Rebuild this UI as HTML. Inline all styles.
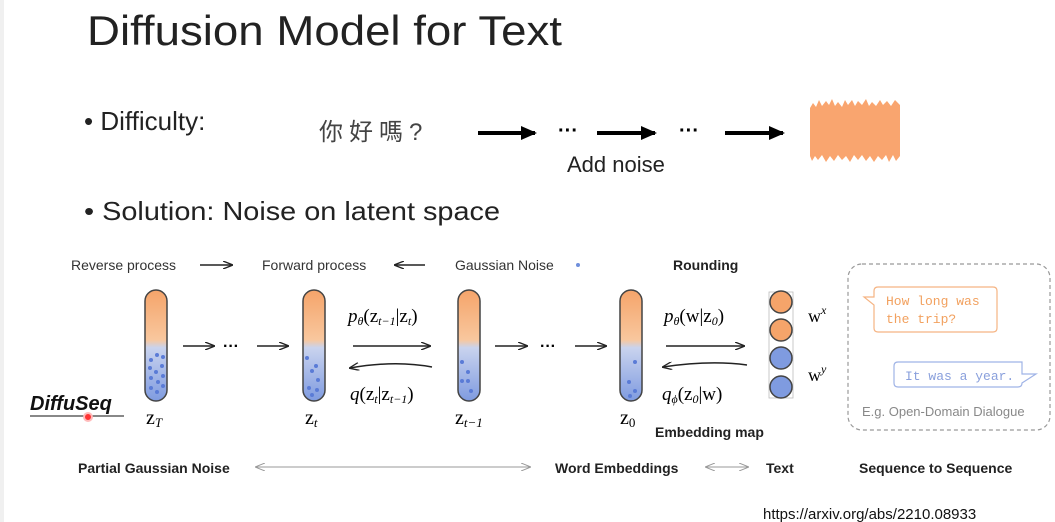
<!DOCTYPE html>
<html><head><meta charset="utf-8"><style>
html,body{margin:0;padding:0;background:#fff;}
svg{display:block;}
text{font-family:"Liberation Sans","Noto Sans CJK TC",sans-serif;}
.s{font-family:"Liberation Serif",serif;}
.m{font-family:"Liberation Mono",monospace;}
</style></head><body>
<svg width="1055" height="522" viewBox="0 0 1055 522" xmlns="http://www.w3.org/2000/svg">
<defs>
<linearGradient id="tube" x1="0" y1="0" x2="0" y2="1">
<stop offset="0" stop-color="#f5a46a"/><stop offset="0.45" stop-color="#f8c79e"/><stop offset="0.52" stop-color="#c9d3ee"/><stop offset="1" stop-color="#7f9be0"/>
</linearGradient>
<marker id="ah" markerWidth="10" markerHeight="8" refX="9" refY="4" orient="auto" markerUnits="userSpaceOnUse"><path d="M0,0 L10,4 L0,8" fill="none" stroke="#222" stroke-width="1.3"/></marker>
<marker id="ahs" markerWidth="10" markerHeight="8" refX="1" refY="4" orient="auto" markerUnits="userSpaceOnUse"><path d="M10,0 L0,4 L10,8" fill="none" stroke="#222" stroke-width="1.3"/></marker>
<marker id="ag" markerWidth="10" markerHeight="8" refX="9" refY="4" orient="auto" markerUnits="userSpaceOnUse"><path d="M0,0 L10,4 L0,8" fill="none" stroke="#999" stroke-width="1"/></marker>
<marker id="ags" markerWidth="10" markerHeight="8" refX="1" refY="4" orient="auto" markerUnits="userSpaceOnUse"><path d="M10,0 L0,4 L10,8" fill="none" stroke="#999" stroke-width="1"/></marker>
<marker id="big" markerWidth="16" markerHeight="14" refX="14" refY="7" orient="auto" markerUnits="userSpaceOnUse"><path d="M0,0 L16,7 L0,14 Z" fill="#000"/></marker>
</defs>
<rect x="0" y="0" width="4" height="522" fill="#f0f0f0"/>
<text x="87" y="45" font-size="42" fill="#222" textLength="475" lengthAdjust="spacingAndGlyphs">Diffusion Model for Text</text>
<text x="84" y="130" font-size="26" fill="#222">• Difficulty:</text>
<text x="84" y="220" font-size="26" fill="#222" textLength="416" lengthAdjust="spacingAndGlyphs">• Solution: Noise on latent space</text>
<text x="319" y="140" font-size="24" fill="#444" letter-spacing="6">你好嗎?</text>
<g stroke="#000" stroke-width="4" marker-end="url(#big)">
<line x1="478" y1="133" x2="535" y2="133"/><line x1="597" y1="133" x2="655" y2="133"/><line x1="725" y1="133" x2="783" y2="133"/>
</g>
<text x="558" y="137" font-size="20" font-weight="bold">···</text>
<text x="679" y="137" font-size="20" font-weight="bold">···</text>
<text x="567" y="172" font-size="22" fill="#222">Add noise</text>
<path d="M810,108 L813,103 L816,107 L819,100 L822,106 L826,101 L829,105 L832,99 L835,106 L838,102 L842,107 L845,100 L848,105 L852,100 L855,106 L858,101 L862,105 L866,99 L869,106 L872,102 L876,106 L880,100 L883,105 L887,101 L891,106 L895,100 L900,105 L900,156 L896,161 L893,155 L889,162 L886,155 L882,160 L878,156 L874,162 L870,156 L866,161 L862,155 L858,160 L854,155 L850,162 L846,156 L842,160 L838,155 L834,161 L830,156 L826,162 L822,155 L818,160 L815,156 L812,161 L810,156 Z" fill="#f9a56f"/>

<text x="71" y="270" font-size="14" fill="#333">Reverse process</text>
<line x1="200" y1="265" x2="232" y2="265" stroke="#222" stroke-width="1.5" marker-end="url(#ah)"/>
<text x="262" y="270" font-size="14" fill="#333">Forward process</text>
<line x1="395" y1="265" x2="425" y2="265" stroke="#222" stroke-width="1.5" marker-start="url(#ahs)"/>
<text x="455" y="270" font-size="14" fill="#333">Gaussian Noise</text>
<circle cx="578" cy="265" r="2" fill="#6f8fdc"/>
<text x="673" y="270" font-size="14" font-weight="bold" fill="#222">Rounding</text>

<g stroke="#444" stroke-width="1.5" fill="url(#tube)">
<rect x="145" y="290" width="22" height="111" rx="11"/>
<rect x="303" y="290" width="22" height="111" rx="11"/>
<rect x="458" y="290" width="22" height="111" rx="11"/>
<rect x="620" y="290" width="22" height="111" rx="11"/>
</g>
<g fill="#5a7bd6">
<circle cx="151" cy="360" r="2"/><circle cx="157" cy="355" r="2"/><circle cx="163" cy="357" r="2"/><circle cx="150" cy="368" r="2"/><circle cx="156" cy="372" r="2"/><circle cx="162" cy="366" r="2"/><circle cx="151" cy="378" r="2"/><circle cx="158" cy="382" r="2"/><circle cx="163" cy="376" r="2"/><circle cx="151" cy="388" r="2"/><circle cx="157" cy="392" r="2"/><circle cx="163" cy="386" r="2"/>
<circle cx="307" cy="358" r="2"/><circle cx="316" cy="366" r="2"/><circle cx="312" cy="371" r="2"/><circle cx="318" cy="380" r="2"/><circle cx="309" cy="388" r="2"/><circle cx="317" cy="390" r="2"/><circle cx="312" cy="395" r="2"/>
<circle cx="462" cy="362" r="2"/><circle cx="468" cy="372" r="2"/><circle cx="462" cy="381" r="2"/><circle cx="468" cy="381" r="2"/><circle cx="471" cy="391" r="2"/>
<circle cx="635" cy="362" r="2"/><circle cx="629" cy="382" r="2"/><circle cx="635" cy="391" r="2"/><circle cx="630" cy="396" r="2"/>
</g>
<g stroke="#222" stroke-width="1.5" fill="none">
<line x1="183" y1="346" x2="214" y2="346" marker-end="url(#ah)"/>
<line x1="257" y1="346" x2="288" y2="346" marker-end="url(#ah)"/>
<line x1="353" y1="346" x2="430" y2="346" marker-end="url(#ah)"/>
<path d="M432,367 Q395,360 350,368" marker-end="url(#ah)"/>
<line x1="495" y1="346" x2="527" y2="346" marker-end="url(#ah)"/>
<line x1="575" y1="346" x2="606" y2="346" marker-end="url(#ah)"/>
<line x1="666" y1="346" x2="744" y2="346" marker-end="url(#ah)"/>
<path d="M747,365 Q710,360 663,367" marker-end="url(#ah)"/>
</g>
<text x="223" y="351" font-size="16" font-weight="bold">···</text>
<text x="540" y="351" font-size="16" font-weight="bold">···</text>
<text class="s" x="348" y="322" font-size="19" font-style="italic">p<tspan font-size="12" dy="3">θ</tspan><tspan dy="-3" font-style="normal">(z</tspan><tspan font-size="12" dy="3">t−1</tspan><tspan dy="-3" font-style="normal">|z</tspan><tspan font-size="12" dy="3">t</tspan><tspan dy="-3" font-style="normal">)</tspan></text>
<text class="s" x="350" y="400" font-size="19" font-style="italic">q<tspan font-style="normal">(z</tspan><tspan font-size="12" dy="3">t</tspan><tspan dy="-3" font-style="normal">|z</tspan><tspan font-size="12" dy="3">t−1</tspan><tspan dy="-3" font-style="normal">)</tspan></text>
<text class="s" x="664" y="322" font-size="19" font-style="italic">p<tspan font-size="12" dy="3">θ</tspan><tspan dy="-3" font-style="normal">(w|z</tspan><tspan font-size="12" dy="3">0</tspan><tspan dy="-3" font-style="normal">)</tspan></text>
<text class="s" x="662" y="400" font-size="19" font-style="italic">q<tspan font-size="12" dy="3">ϕ</tspan><tspan dy="-3" font-style="normal">(z</tspan><tspan font-size="12" dy="3">0</tspan><tspan dy="-3" font-style="normal">|w)</tspan></text>
<text class="s" x="146" y="424" font-size="20">z<tspan font-size="13" dy="3" font-style="italic">T</tspan></text>
<text class="s" x="305" y="424" font-size="20">z<tspan font-size="13" dy="3" font-style="italic">t</tspan></text>
<text class="s" x="455" y="424" font-size="20">z<tspan font-size="13" dy="3" font-style="italic">t−1</tspan></text>
<text class="s" x="620" y="424" font-size="20">z<tspan font-size="13" dy="3">0</tspan></text>
<text x="655" y="437" font-size="14" font-weight="bold" fill="#222">Embedding map</text>
<text x="30" y="410" font-size="20" font-weight="bold" font-style="italic" fill="#111">DiffuSeq</text>
<line x1="30" y1="416" x2="124" y2="416" stroke="#111" stroke-width="1"/>
<circle cx="88" cy="417" r="4" fill="#f33" stroke="#fbb" stroke-width="2"/>

<rect x="769" y="292" width="24" height="106" fill="none" stroke="#bbb" stroke-width="0.8"/>
<g stroke="#444" stroke-width="1.5">
<circle cx="781" cy="302" r="11" fill="#f5a46a"/><circle cx="781" cy="330" r="11" fill="#f5a46a"/>
<circle cx="781" cy="358" r="11" fill="#7f9be0"/><circle cx="781" cy="387" r="11" fill="#7f9be0"/>
</g>
<text class="s" x="808" y="322" font-size="18">w<tspan font-size="12" dy="-8" font-style="italic">x</tspan></text>
<text class="s" x="808" y="381" font-size="18">w<tspan font-size="12" dy="-8" font-style="italic">y</tspan></text>

<rect x="848" y="264" width="202" height="166" rx="14" fill="none" stroke="#999" stroke-width="1.2" stroke-dasharray="4,3"/>
<path d="M878,287 L993,287 Q997,287 997,291 L997,328 Q997,332 993,332 L878,332 Q874,332 874,328 L874,305 L864,297 L874,297 L874,291 Q874,287 878,287 Z" fill="#fff" stroke="#f5b483" stroke-width="1.2"/>
<text class="m" x="886" y="305" font-size="13" fill="#f2a15f">How long was</text>
<text class="m" x="886" y="323" font-size="13" fill="#f2a15f">the trip?</text>
<path d="M898,362 L1022,362 L1022,374 L1036,374 L1022,383 L1022,383 Q1022,387 1018,387 L898,387 Q894,387 894,383 L894,366 Q894,362 898,362 Z" fill="#fff" stroke="#9fb3e6" stroke-width="1.2"/>
<text class="m" x="905" y="380" font-size="13" fill="#8aa0dc">It was a year.</text>
<text x="862" y="416" font-size="13" fill="#888">E.g. Open-Domain Dialogue</text>

<text x="78" y="473" font-size="14" font-weight="bold" fill="#222">Partial Gaussian Noise</text>
<line x1="256" y1="467" x2="530" y2="467" stroke="#999" stroke-width="1" marker-start="url(#ags)" marker-end="url(#ag)"/>
<text x="555" y="473" font-size="14" font-weight="bold" fill="#222">Word Embeddings</text>
<line x1="706" y1="467" x2="748" y2="467" stroke="#999" stroke-width="1" marker-start="url(#ags)" marker-end="url(#ag)"/>
<text x="766" y="473" font-size="14" font-weight="bold" fill="#222">Text</text>
<text x="859" y="473" font-size="14" font-weight="bold" fill="#222">Sequence to Sequence</text>
<text x="763" y="519" font-size="15" fill="#111">https://arxiv.org/abs/2210.08933</text>
</svg>
</body></html>
